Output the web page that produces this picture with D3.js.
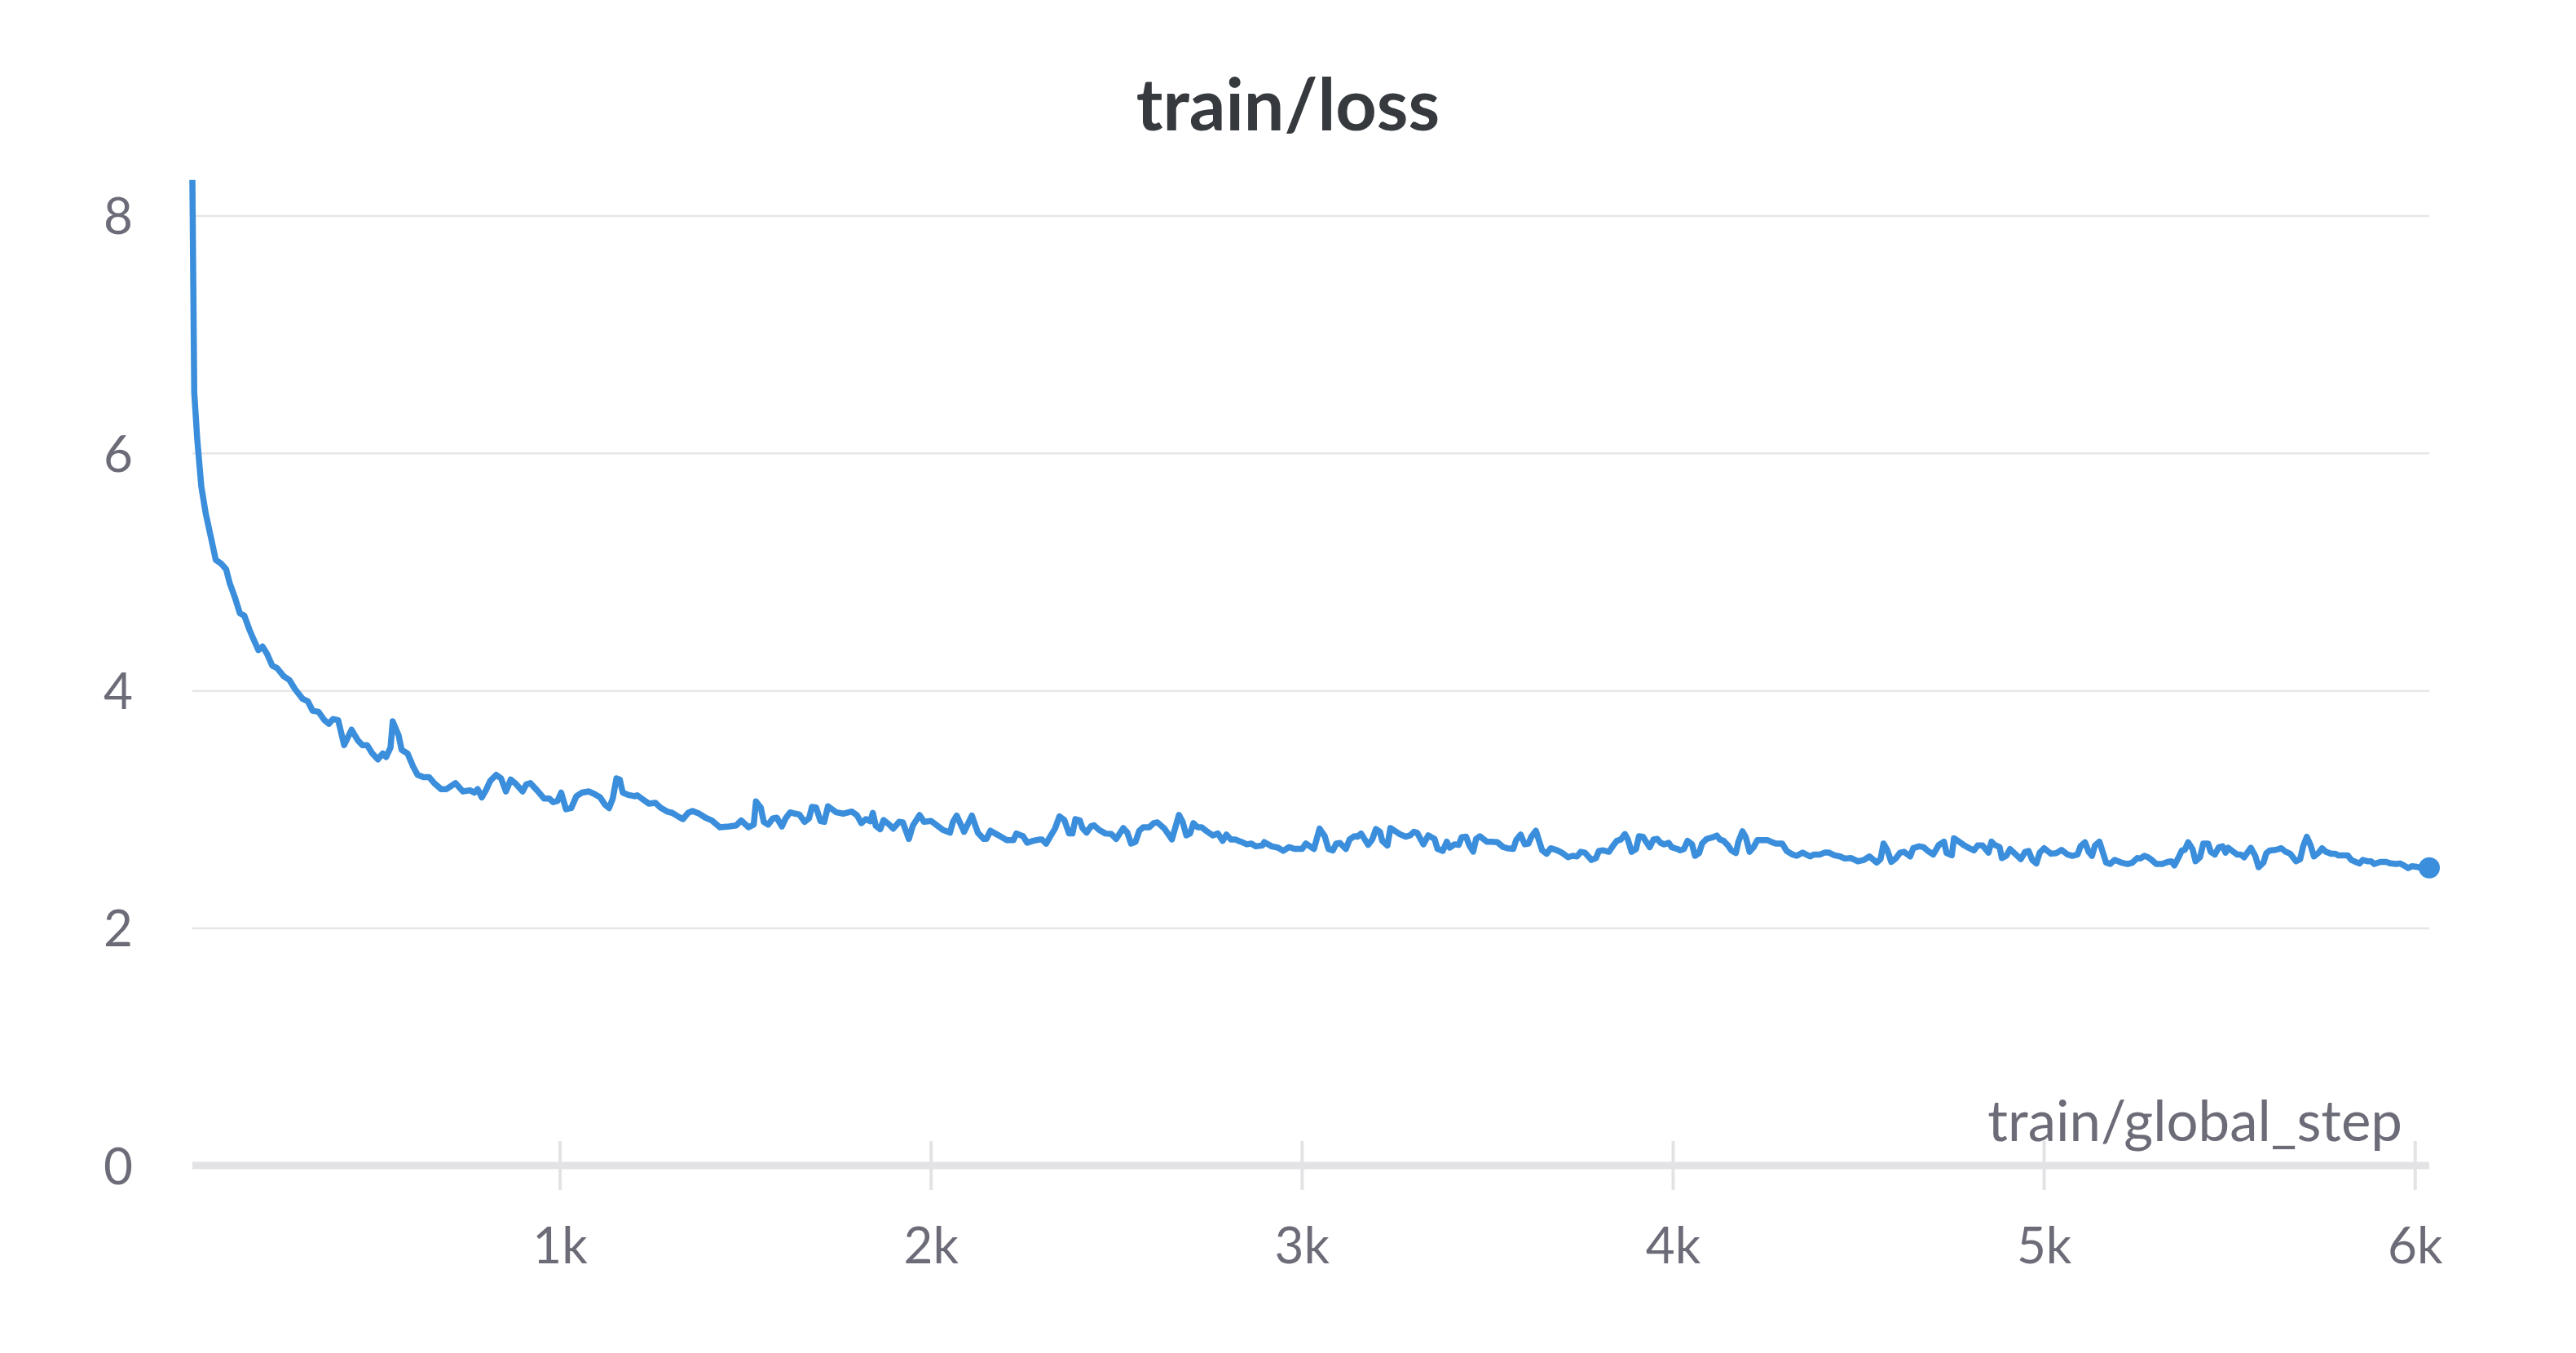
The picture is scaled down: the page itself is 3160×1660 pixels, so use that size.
<!DOCTYPE html>
<html>
<head>
<meta charset="utf-8">
<script src="https://cdn.jsdelivr.net/npm/d3@7"></script>
<style>
  html, body { margin: 0; padding: 0; background: #ffffff; }
  svg { display: block; }
</style>
</head>
<body>
<svg id="chart" width="3160" height="1660"></svg>
<script>
// ---------------- DATA ----------------
const chartTitle = "train/loss";
const xAxisLabel = "train/global_step";
const xTickValues = [1000, 2000, 3000, 4000, 5000, 6000];
const xTickLabels = ["1k", "2k", "3k", "4k", "5k", "6k"];
const yTickValues = [0, 2, 4, 6, 8];
const yTickLabels = ["0", "2", "4", "6", "8"];

const steps = [
  10, 15, 23, 34, 46, 60, 73, 87, 101, 111, 125, 138, 150, 164, 175, 188, 199, 211, 225, 238,
  256, 271, 287, 307, 321, 334, 350, 366, 378, 389, 403, 419, 439, 456, 468, 481, 495, 510, 523, 532,
  544, 550, 566, 574, 590, 605, 617, 633, 648, 662, 680, 695, 719, 739, 758, 770, 779, 790, 801, 813,
  829, 842, 855, 868, 880, 900, 910, 921, 939, 958, 972, 982, 994, 1004, 1017, 1031, 1045, 1060, 1078, 1093,
  1109, 1122, 1133, 1143, 1153, 1162, 1170, 1186, 1202,
  1209, 1224, 1240, 1258, 1272, 1291, 1303, 1319, 1332, 1346, 1358, 1376, 1393, 1410, 1432, 1456, 1476, 1489,
  1509, 1523, 1529, 1542, 1550, 1562, 1574, 1585, 1599, 1609, 1621, 1635, 1646, 1660, 1672, 1680, 1691, 1703,
  1713, 1723, 1746, 1764, 1787, 1801, 1813, 1825, 1837, 1844, 1852, 1864, 1873, 1888, 1899, 1915, 1925, 1941,
  1952, 1970, 1982, 2001, 2017, 2033, 2052, 2060, 2070, 2090, 2111, 2127, 2143, 2150, 2161, 2174, 2190, 2205,
  2223, 2231, 2249, 2260, 2276, 2292, 2300, 2311, 2327, 2335, 2347, 2360, 2373, 2382, 2390, 2402, 2409, 2420,
  2433, 2440, 2454, 2471, 2487, 2500, 2519, 2530, 2540, 2552, 2562, 2573, 2589, 2601, 2611, 2630, 2650, 2669,
  2679, 2689, 2699, 2708, 2719, 2730, 2742, 2760, 2774, 2787, 2797, 2809, 2821, 2836, 2852, 2864, 2876, 2894,
  2899, 2919, 2936, 2950, 2966, 2981, 3001, 3011, 3033, 3048, 3062, 3072, 3084, 3093, 3103, 3119, 3129, 3142,
  3150, 3160, 3179, 3190, 3200, 3211, 3217, 3231, 3239, 3264, 3280, 3292, 3302, 3311, 3328, 3341, 3358, 3366,
  3380, 3391, 3399, 3412, 3423, 3431, 3443, 3452, 3462, 3470, 3480, 3499, 3511, 3527, 3543, 3554, 3570, 3578,
  3590, 3601, 3611, 3619, 3631, 3648,
  3660, 3671, 3689, 3703, 3718, 3730, 3742, 3752, 3763, 3781, 3793, 3801, 3813, 3828, 3838, 3849, 3860, 3871,
  3879, 3889, 3901, 3909, 3920, 3928, 3938, 3948, 3958, 3967, 3977, 3989, 3997, 4013, 4020, 4030, 4040, 4052,
  4060, 4071, 4079, 4091, 4107, 4119, 4127, 4137, 4148, 4158, 4170, 4177, 4188, 4197, 4207, 4218, 4228, 4240,
  4256, 4268, 4278, 4295, 4307, 4323, 4334, 4350, 4370, 4381, 4397, 4409, 4421, 4436, 4451, 4464, 4480, 4499,
  4515, 4530, 4550, 4560, 4568, 4578, 4589, 4601, 4613, 4623, 4640, 4648, 4664, 4676, 4688, 4702, 4717, 4731,
  4738, 4752, 4758, 4774, 4786, 4797, 4812, 4822, 4835, 4851, 4859, 4868,
  4881, 4887, 4899, 4909, 4925, 4938, 4950, 4959, 4969, 4980, 4989, 5001, 5019, 5034, 5048, 5064, 5077, 5091,
  5099, 5111, 5121, 5130, 5138, 5150, 5168, 5179, 5191, 5209, 5226, 5239, 5252, 5260, 5271, 5281, 5291, 5303,
  5319, 5334, 5344, 5352, 5366, 5372, 5380, 5389, 5401, 5409, 5421, 5430, 5443, 5450, 5461, 5472, 5482, 5490,
  5497, 5508, 5521, 5531, 5540, 5558, 5570, 5579, 5592, 5600, 5609, 5625, 5640, 5652, 5664, 5680, 5691, 5699,
  5709, 5719, 5728, 5741, 5750, 5760, 5774, 5786, 5793, 5805, 5819, 5829, 5840, 5851, 5860, 5872, 5882, 5891,
  5907, 5923, 5935, 5950, 5960, 5970, 5982, 5993, 6005, 6017, 6039
];

const loss = [
  8.30, 6.51, 6.12, 5.72, 5.49, 5.29, 5.10, 5.07, 5.02, 4.90, 4.78, 4.65, 4.63, 4.51, 4.43, 4.34, 4.37, 4.31, 4.21, 4.19,
  4.12, 4.09, 4.01, 3.93, 3.91, 3.83, 3.82, 3.75, 3.72, 3.76, 3.75, 3.54, 3.67, 3.58, 3.54, 3.54, 3.47, 3.42, 3.47, 3.44,
  3.52, 3.74, 3.62, 3.50, 3.47, 3.36, 3.29, 3.27, 3.27, 3.22, 3.17, 3.17, 3.22, 3.15, 3.16, 3.14, 3.17, 3.10, 3.16, 3.24,
  3.29, 3.26, 3.15, 3.25, 3.22, 3.15, 3.21, 3.22, 3.16, 3.09, 3.09, 3.06, 3.07, 3.14, 3.00, 3.01, 3.11, 3.14, 3.15, 3.13,
  3.10, 3.04, 3.01, 3.09, 3.26, 3.25, 3.14, 3.12, 3.11,
  3.118, 3.084, 3.048, 3.054, 3.013, 2.979, 2.970, 2.940, 2.917, 2.970, 2.986, 2.963, 2.929, 2.906, 2.848, 2.855, 2.864, 2.906,
  2.848, 2.871, 3.066, 3.015, 2.894, 2.871, 2.922, 2.929, 2.855, 2.924, 2.974, 2.963, 2.956, 2.894, 2.924, 3.020, 3.015, 2.901,
  2.894, 3.025, 2.974, 2.963, 2.981, 2.951, 2.883, 2.917, 2.899, 2.970, 2.860, 2.832, 2.910, 2.871, 2.837, 2.894, 2.890, 2.750,
  2.864, 2.951, 2.894, 2.901, 2.864, 2.826, 2.803, 2.894, 2.947, 2.810, 2.947, 2.803, 2.750, 2.750, 2.819, 2.796, 2.768, 2.741,
  2.741, 2.796, 2.773, 2.718, 2.734, 2.745, 2.745, 2.711, 2.796, 2.837, 2.940, 2.910, 2.796, 2.796, 2.917, 2.906, 2.842, 2.803,
  2.860, 2.865, 2.826, 2.796, 2.791, 2.750, 2.842, 2.803, 2.711, 2.727, 2.819, 2.849, 2.849, 2.883, 2.890, 2.837, 2.746, 2.952,
  2.894, 2.780, 2.796, 2.883, 2.849, 2.849, 2.819, 2.780, 2.796, 2.734, 2.787, 2.746, 2.746, 2.727, 2.705, 2.711, 2.688, 2.695,
  2.723, 2.688, 2.677, 2.650, 2.682, 2.666, 2.666, 2.711, 2.666, 2.837, 2.773, 2.666, 2.654, 2.711, 2.716, 2.666, 2.746, 2.773,
  2.769, 2.796, 2.700, 2.746, 2.833, 2.810, 2.734, 2.695, 2.842, 2.791, 2.769, 2.780, 2.810, 2.803, 2.705, 2.780, 2.750, 2.666,
  2.650, 2.727, 2.677, 2.705, 2.700, 2.764, 2.769, 2.695, 2.643, 2.750, 2.773, 2.727, 2.727, 2.723, 2.682, 2.672, 2.666, 2.741,
  2.787, 2.705, 2.711, 2.769, 2.819, 2.654,
  2.626, 2.672, 2.654, 2.631, 2.596, 2.608, 2.603, 2.642, 2.635, 2.573, 2.589, 2.649, 2.654, 2.642, 2.688, 2.734, 2.745, 2.791,
  2.745, 2.642, 2.665, 2.773, 2.768, 2.727, 2.681, 2.745, 2.750, 2.718, 2.704, 2.718, 2.681, 2.665, 2.654, 2.665, 2.734, 2.704,
  2.608, 2.631, 2.711, 2.750, 2.763, 2.779, 2.745, 2.734, 2.699, 2.654, 2.631, 2.727, 2.814, 2.763, 2.642, 2.681, 2.740, 2.740,
  2.740, 2.722, 2.711, 2.711, 2.649, 2.619, 2.608, 2.635, 2.603, 2.619, 2.619, 2.635, 2.635, 2.612, 2.603, 2.585, 2.589, 2.562,
  2.573, 2.603, 2.551, 2.580, 2.711, 2.658, 2.557, 2.585, 2.635, 2.642, 2.603, 2.672, 2.688, 2.681, 2.649, 2.619, 2.699, 2.727,
  2.631, 2.612, 2.756, 2.722, 2.695, 2.676, 2.654, 2.695, 2.695, 2.635, 2.727, 2.700,
  2.681, 2.589, 2.608, 2.665, 2.619, 2.580, 2.642, 2.649, 2.573, 2.544, 2.635, 2.672, 2.626, 2.631, 2.658, 2.619, 2.608, 2.619,
  2.688, 2.722, 2.642, 2.608, 2.695, 2.727, 2.551, 2.539, 2.573, 2.551, 2.539, 2.551, 2.589, 2.585, 2.608, 2.596, 2.573, 2.539,
  2.539, 2.557, 2.562, 2.528, 2.612, 2.653, 2.658, 2.722, 2.665, 2.562, 2.596, 2.711, 2.711, 2.642, 2.619, 2.681, 2.688, 2.635,
  2.676, 2.649, 2.619, 2.619, 2.596, 2.676, 2.608, 2.512, 2.551, 2.631, 2.653, 2.658, 2.672, 2.642, 2.626, 2.562, 2.580, 2.688,
  2.768, 2.699, 2.603, 2.635, 2.672, 2.642, 2.626, 2.626, 2.612, 2.612, 2.612, 2.573, 2.557, 2.544, 2.573, 2.562, 2.562, 2.539,
  2.557, 2.557, 2.544, 2.539, 2.544, 2.528, 2.505, 2.521, 2.516, 2.505, 2.507
];

// ---------------- STYLE ----------------
const W = 3160, H = 1660;
const plotLeft = 236, plotRight = 2980;
const zeroY = 1430, eightY = 264.4;
const lineColor = "#3a8edb";
const gridColor = "#e6e6e6";
const axisColor = "#e3e3e6";
const tickTextColor = "#6c6c78";
const titleColor = "#363a3e";
const fontFamily = "Lato, 'Noto Sans', sans-serif";

const data = steps.map((s, i) => ({ step: s, loss: loss[i] }));

const x = d3.scaleLinear()
  .domain([steps[0], steps[steps.length - 1]])
  .range([plotLeft, plotRight]);

const y = d3.scaleLinear()
  .domain([0, 8])
  .range([zeroY, eightY]);

const svg = d3.select("#chart");

// Title
svg.append("text")
  .attr("x", 1580)
  .attr("y", 160)
  .attr("text-anchor", "middle")
  .attr("font-family", fontFamily)
  .attr("font-weight", 700)
  .attr("font-size", 88)
  .attr("fill", titleColor)
  .text(chartTitle);

// Y grid lines + labels via axisLeft
const yAxis = d3.axisLeft(y)
  .tickValues(yTickValues)
  .tickFormat((d, i) => yTickLabels[i])
  .tickSize(-(plotRight - plotLeft))
  .tickPadding(73);

const yG = svg.append("g")
  .attr("transform", `translate(${plotLeft},0)`)
  .call(yAxis);
yG.select(".domain").remove();
yG.selectAll(".tick line")
  .attr("stroke", gridColor)
  .attr("stroke-width", 2.5)
  .attr("display", d => d === 0 ? "none" : null);
yG.selectAll(".tick text")
  .attr("font-family", fontFamily)
  .attr("font-size", 62)
  .attr("fill", tickTextColor)
  .attr("dy", "0.36em");

// X axis
const xAxis = d3.axisBottom(x)
  .tickValues(xTickValues)
  .tickFormat((d, i) => xTickLabels[i])
  .tickSize(0)
  .tickPadding(120);

const xG = svg.append("g")
  .attr("transform", `translate(0,${zeroY})`)
  .call(xAxis);
xG.select(".domain").remove();
xG.insert("line", ":first-child")
  .attr("x1", plotLeft).attr("x2", plotRight)
  .attr("y1", 0).attr("y2", 0)
  .attr("stroke", axisColor)
  .attr("stroke-width", 9);
xG.selectAll(".tick").append("line")
  .attr("x1", 0).attr("x2", 0)
  .attr("y1", -30).attr("y2", 30)
  .attr("stroke", axisColor)
  .attr("stroke-width", 4);
xG.selectAll(".tick text")
  .attr("font-family", fontFamily)
  .attr("font-size", 62)
  .attr("fill", tickTextColor)
  .attr("y", 120)
  .attr("dy", "0");

// X axis label
svg.append("text")
  .attr("x", 2947)
  .attr("y", 1400)
  .attr("text-anchor", "end")
  .attr("font-family", fontFamily)
  .attr("font-size", 69)
  .attr("fill", tickTextColor)
  .text(xAxisLabel);

// Line
const line = d3.line()
  .x(d => x(d.step))
  .y(d => y(d.loss));

svg.append("path")
  .datum(data)
  .attr("fill", "none")
  .attr("stroke", lineColor)
  .attr("stroke-width", 7.5)
  .attr("stroke-linejoin", "round")
  .attr("stroke-linecap", "butt")
  .attr("d", line);

// End dot
const last = data[data.length - 1];
svg.append("circle")
  .attr("cx", x(last.step))
  .attr("cy", y(last.loss))
  .attr("r", 13)
  .attr("fill", lineColor);
</script>
</body>
</html>
